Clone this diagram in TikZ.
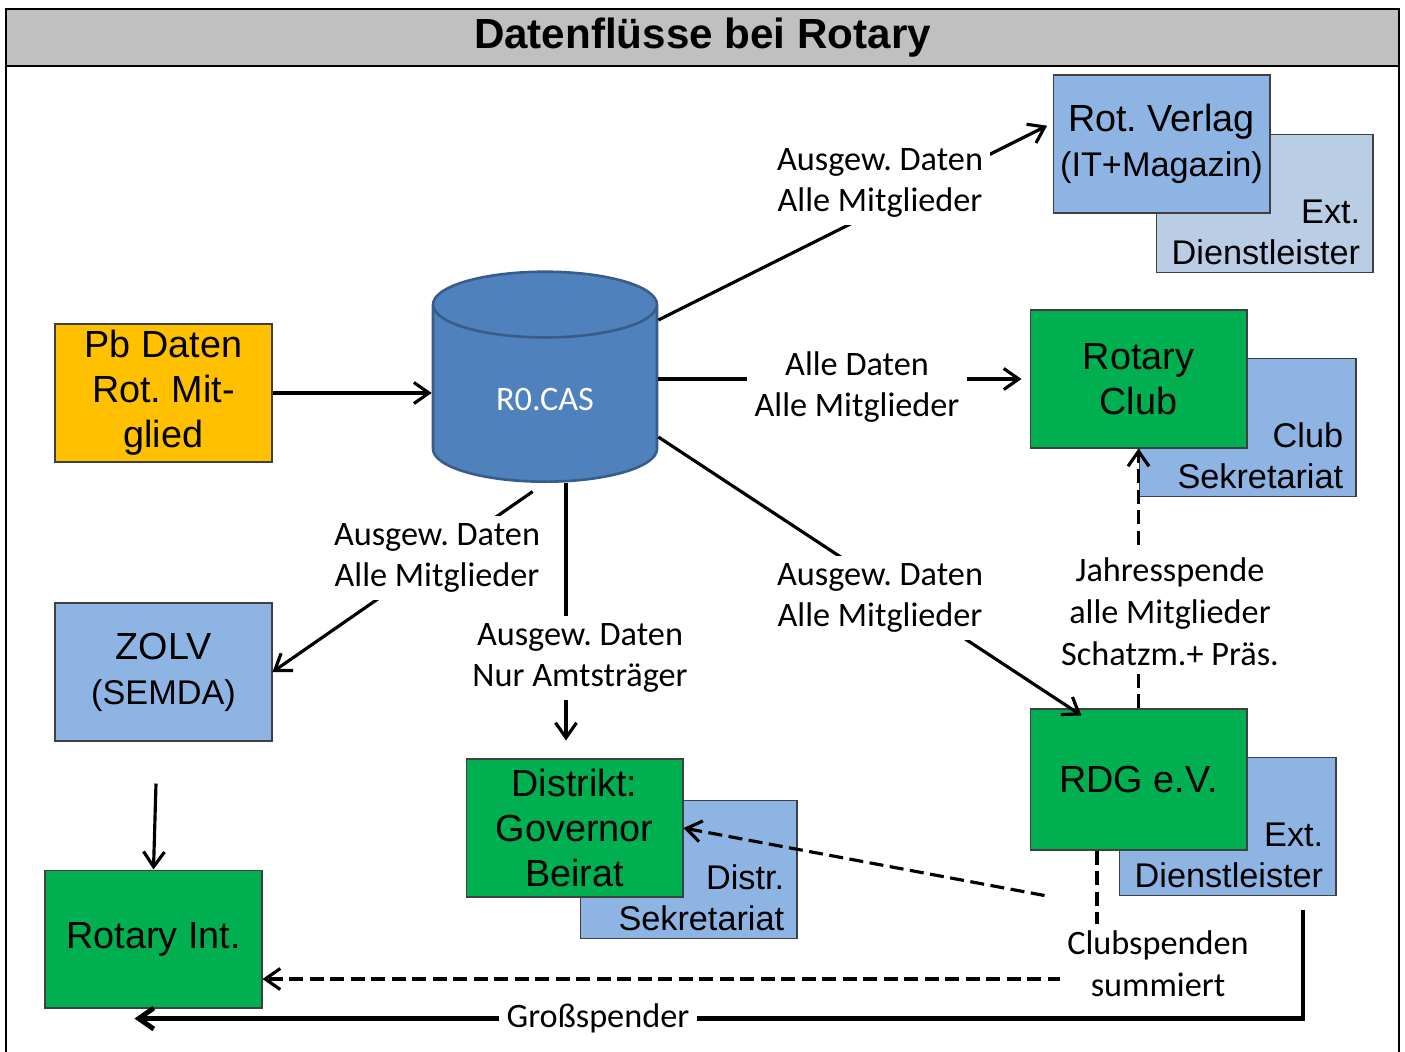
\documentclass[tikz,border=0pt]{standalone}
\usepackage{fontspec}
\setmainfont{Liberation Sans}
\newfontfamily\lblfont{Carlito}
\usetikzlibrary{arrows.meta, shapes.geometric, positioning, calc}
\frenchspacing
\newcommand{\smallline}{\fontsize{19.5}{23.5}\selectfont}

\definecolor{rgreen}{HTML}{00B050}
\definecolor{rblue}{HTML}{8EB4E3}
\definecolor{rlight}{HTML}{B9CDE5}
\definecolor{rorange}{HTML}{FFC000}
\definecolor{dbfill}{HTML}{4F81BD}
\definecolor{dbline}{HTML}{385D8A}
\definecolor{tgray}{HTML}{C0C0C0}

\begin{document}
\begin{tikzpicture}[
  x=0.02cm, y=-0.02cm,
  >={Straight Barb[length=0.3cm, width=0.42cm]},
  bx/.style = {draw=black!75, line width=0.6pt, minimum width=4.34cm, minimum height=2.76cm,
    inner xsep=2pt, align=center, font=\fontsize{21.5}{25.5}\selectfont},
  nblue/.style = {bx, fill=rblue},
  ngreen/.style = {bx, fill=rgreen},
  norange/.style = {bx, fill=rorange},
  nlight/.style = {bx, fill=rlight},
  extlbl/.style = {label={[anchor=south east, align=right, inner xsep=0.26cm, inner ysep=0.15cm,
    font=\smallline]south east:#1}},
  db/.style = {cylinder, shape border rotate=90, aspect=0.6, minimum width=4.48cm, minimum height=4.2cm,
    draw=dbline, line width=1.5pt, fill=dbfill, text=white, font=\lblfont\fontsize{19.5}{23.5}\selectfont},
  lbl/.style = {fill=white, align=center, inner xsep=0.15cm, inner ysep=0.15cm,
    font=\lblfont\fontsize{19.5}{23.8}\selectfont},
  arr/.style = {->, line width=1.8pt},
  darr/.style = {arr, dash pattern=on 0.28cm off 0.13cm},
  ]
  \useasboundingbox (0,0) rectangle (1405,1051);
  % Rahmen und Titel
  \draw[line width=1.2pt] (6,9) rectangle (1399,1070);
  \node[draw, line width=1.2pt, fill=tgray, minimum width=27.86cm, minimum height=1.14cm,
    font=\bfseries\fontsize{24}{28}\selectfont] (title) at (702.5,37.5) {Datenflüsse bei Rotary};

  % Boxen
  \node[nlight, extlbl={Ext.\\Dienstleister}] (verlagext) at (1264.5,203.5) {};
  \node[nblue] (verlag) at (1161.5,144) {Rot. Verlag\\{\smallline(IT+Magazin)}};
  \node[nblue, extlbl={Club\\Sekretariat}] (clubsek) at (1247.5,427.5) {};
  \node[ngreen] (club) at (1138.5,379) {Rotary\\Club};
  \node[norange] (pb) at (163.5,393) {Pb Daten\\Rot. Mit-\\glied};
  \node[db, anchor=south] (rocas) at (545,483) {R0.CAS};
  \node[nblue] (zolv) at (163.5,672) {ZOLV\\{\smallline(SEMDA)}};
  \node[ngreen] (rotint) at (153.5,939) {Rotary Int.};
  \node[nblue, extlbl={Distr.\\Sekretariat}] (distsek) at (688.5,869.5) {};
  \node[ngreen] (distrikt) at (574.5,828) {Distrikt:\\Governor\\Beirat};
  \node[nblue, extlbl={Ext.\\Dienstleister}] (rdgext) at (1227.5,826.5) {};
  \node[ngreen, minimum height=2.82cm] (rdg) at (1138.5,779.5) {RDG e.V.};

  % Datenfluesse
  \draw[arr] (pb.east) -- (pb.east -| rocas.west);
  \draw[arr, shorten >=0.12cm] (rocas.east |- 0,320) -- ($(verlag.west)+(0,-21)$);
  \draw[arr, shorten >=0.16cm] (rocas.east |- club.west) -- (club.west);
  \draw[arr] (rocas.east |- 0,437) -- ($(rdg.north west)+(52,7)$);
  \draw[arr, shorten <=0.3cm] (rocas.south) -- (zolv.east);
  \draw[arr, shorten >=0.36cm] ($(rocas.south)+(21,0)$) -- ($(distrikt.north)+(-8.5,0)$);
  \draw[arr] ($(zolv.south)+(-7.5,42)$) -- (rotint.north);
  \draw[darr] (rdg.north) -- (club.south);
  \draw[darr] ($(rdg.south west)+(15,45)$) -- (distrikt.east);
  \draw[darr] ($(rdg.south)+(-41.5,0)$) |- ($(rotint.east)+(0,40)$);
  \draw[->, line width=2.8pt] ($(rdgext.south)+(75.5,14)$) |- ($(rotint.south west)+(90,10)$);

  % Beschriftungen
  \node[lbl] (l1) at (880,183) {Ausgew. Daten\\Alle Mitglieder};
  \node[lbl] (l2) at (857,387) {Alle Daten\\Alle Mitglieder};
  \node[lbl] (l3) at (880,598) {Ausgew. Daten\\Alle Mitglieder};
  \node[lbl] (l4) at (437,558) {Ausgew. Daten\\Alle Mitglieder};
  \node[lbl] (l5) at (580,658) {Ausgew. Daten\\Nur Amtsträger};
  \node[lbl] (l6) at (1170,612) {Jahresspende\\alle Mitglieder\\Schatzm.+ Präs.};
  \node[lbl] (l7) at (1158,964) {Clubspenden\\summiert};
  \node[lbl] (l8) at (598,1018) {Großspender};
\end{tikzpicture}
\end{document}
